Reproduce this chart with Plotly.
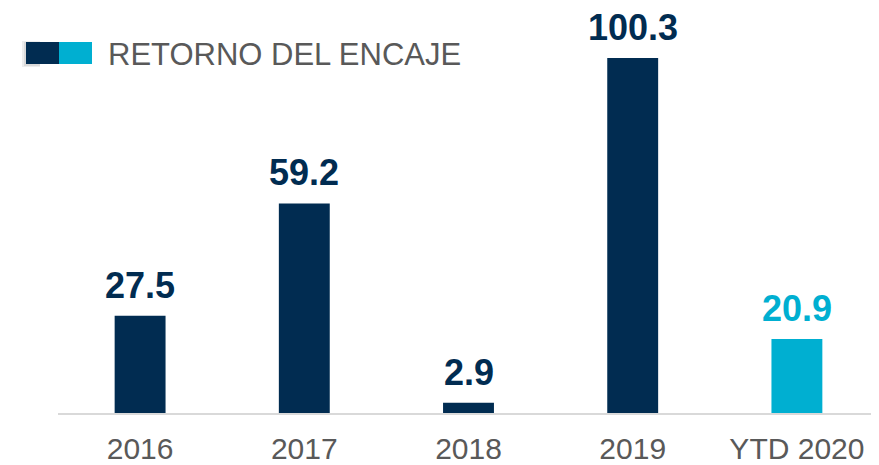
import plotly.graph_objects as go

categories = ["2016", "2017", "2018", "2019", "YTD 2020"]
values = [27.5, 59.2, 2.9, 100.3, 20.9]
value_labels = ["27.5", "59.2", "2.9", "100.3", "20.9"]
bar_colors = ["#012c51", "#012c51", "#012c51", "#012c51", "#00afd1"]
legend_title = "RETORNO DEL ENCAJE"

# page body has an 8px margin, so the figure is sized to fit the window
OFF = 8
W, H = 871, 457
ML, MR, MT, MB = 50, 0, 0, 52
pw = W - ML - MR
ph = H - MT - MB

fig = go.Figure()
fig.add_trace(go.Bar(
    x=categories, y=values,
    marker=dict(color=bar_colors, line=dict(width=0)),
    width=0.31,
    hoverinfo="skip",
))

for i, (v, lab, col) in enumerate(zip(values, value_labels, bar_colors)):
    fig.add_annotation(
        x=i, y=v, text=f"<b>{lab}</b>", showarrow=False,
        xanchor="center", yanchor="bottom", yshift=8,
        font=dict(family="Liberation Sans, Arial", size=36, color=col),
    )

def px_x(p):
    return (p - OFF - ML) / pw

def px_y(p):
    return 1 - (p - OFF - MT) / ph

# legend swatch (soft shadow + two colour blocks)
fig.add_shape(type="rect", xref="paper", yref="paper",
              x0=px_x(22), x1=px_x(40), y0=px_y(67), y1=px_y(41),
              fillcolor="rgba(0,0,0,0.07)", line=dict(width=0), layer="above")
fig.add_shape(type="rect", xref="paper", yref="paper",
              x0=px_x(24), x1=px_x(40), y0=px_y(66), y1=px_y(42),
              fillcolor="rgba(0,0,0,0.08)", line=dict(width=0), layer="above")
fig.add_shape(type="rect", xref="paper", yref="paper",
              x0=px_x(26), x1=px_x(59), y0=px_y(64), y1=px_y(42),
              fillcolor="#012c51", line=dict(width=0), layer="above")
fig.add_shape(type="rect", xref="paper", yref="paper",
              x0=px_x(59), x1=px_x(92), y0=px_y(64), y1=px_y(42),
              fillcolor="#00afd1", line=dict(width=0), layer="above")
fig.add_annotation(
    xref="paper", yref="paper", x=px_x(106), y=px_y(54),
    xanchor="left", yanchor="middle", showarrow=False,
    text=legend_title,
    font=dict(family="Liberation Sans, Arial", size=31, color="#595959"),
)

fig.update_layout(
    width=W, height=H,
    margin=dict(l=ML, r=MR, t=MT, b=MB),
    plot_bgcolor="white", paper_bgcolor="white",
    showlegend=False,
    bargap=0.69,
    xaxis=dict(
        type="category", range=[-0.5, len(categories) - 0.5],
        showgrid=False, zeroline=False, showline=True,
        linecolor="#d9d9d9", linewidth=2, ticks="",
        ticklabelstandoff=8,
        tickfont=dict(family="Liberation Sans Narrow, Liberation Sans, Arial", size=30, color="#595959"),
        fixedrange=True,
    ),
    yaxis=dict(
        range=[0, 114.4], visible=False, showgrid=False, zeroline=False,
        fixedrange=True,
    ),
)

fig.write_html("out.html")
